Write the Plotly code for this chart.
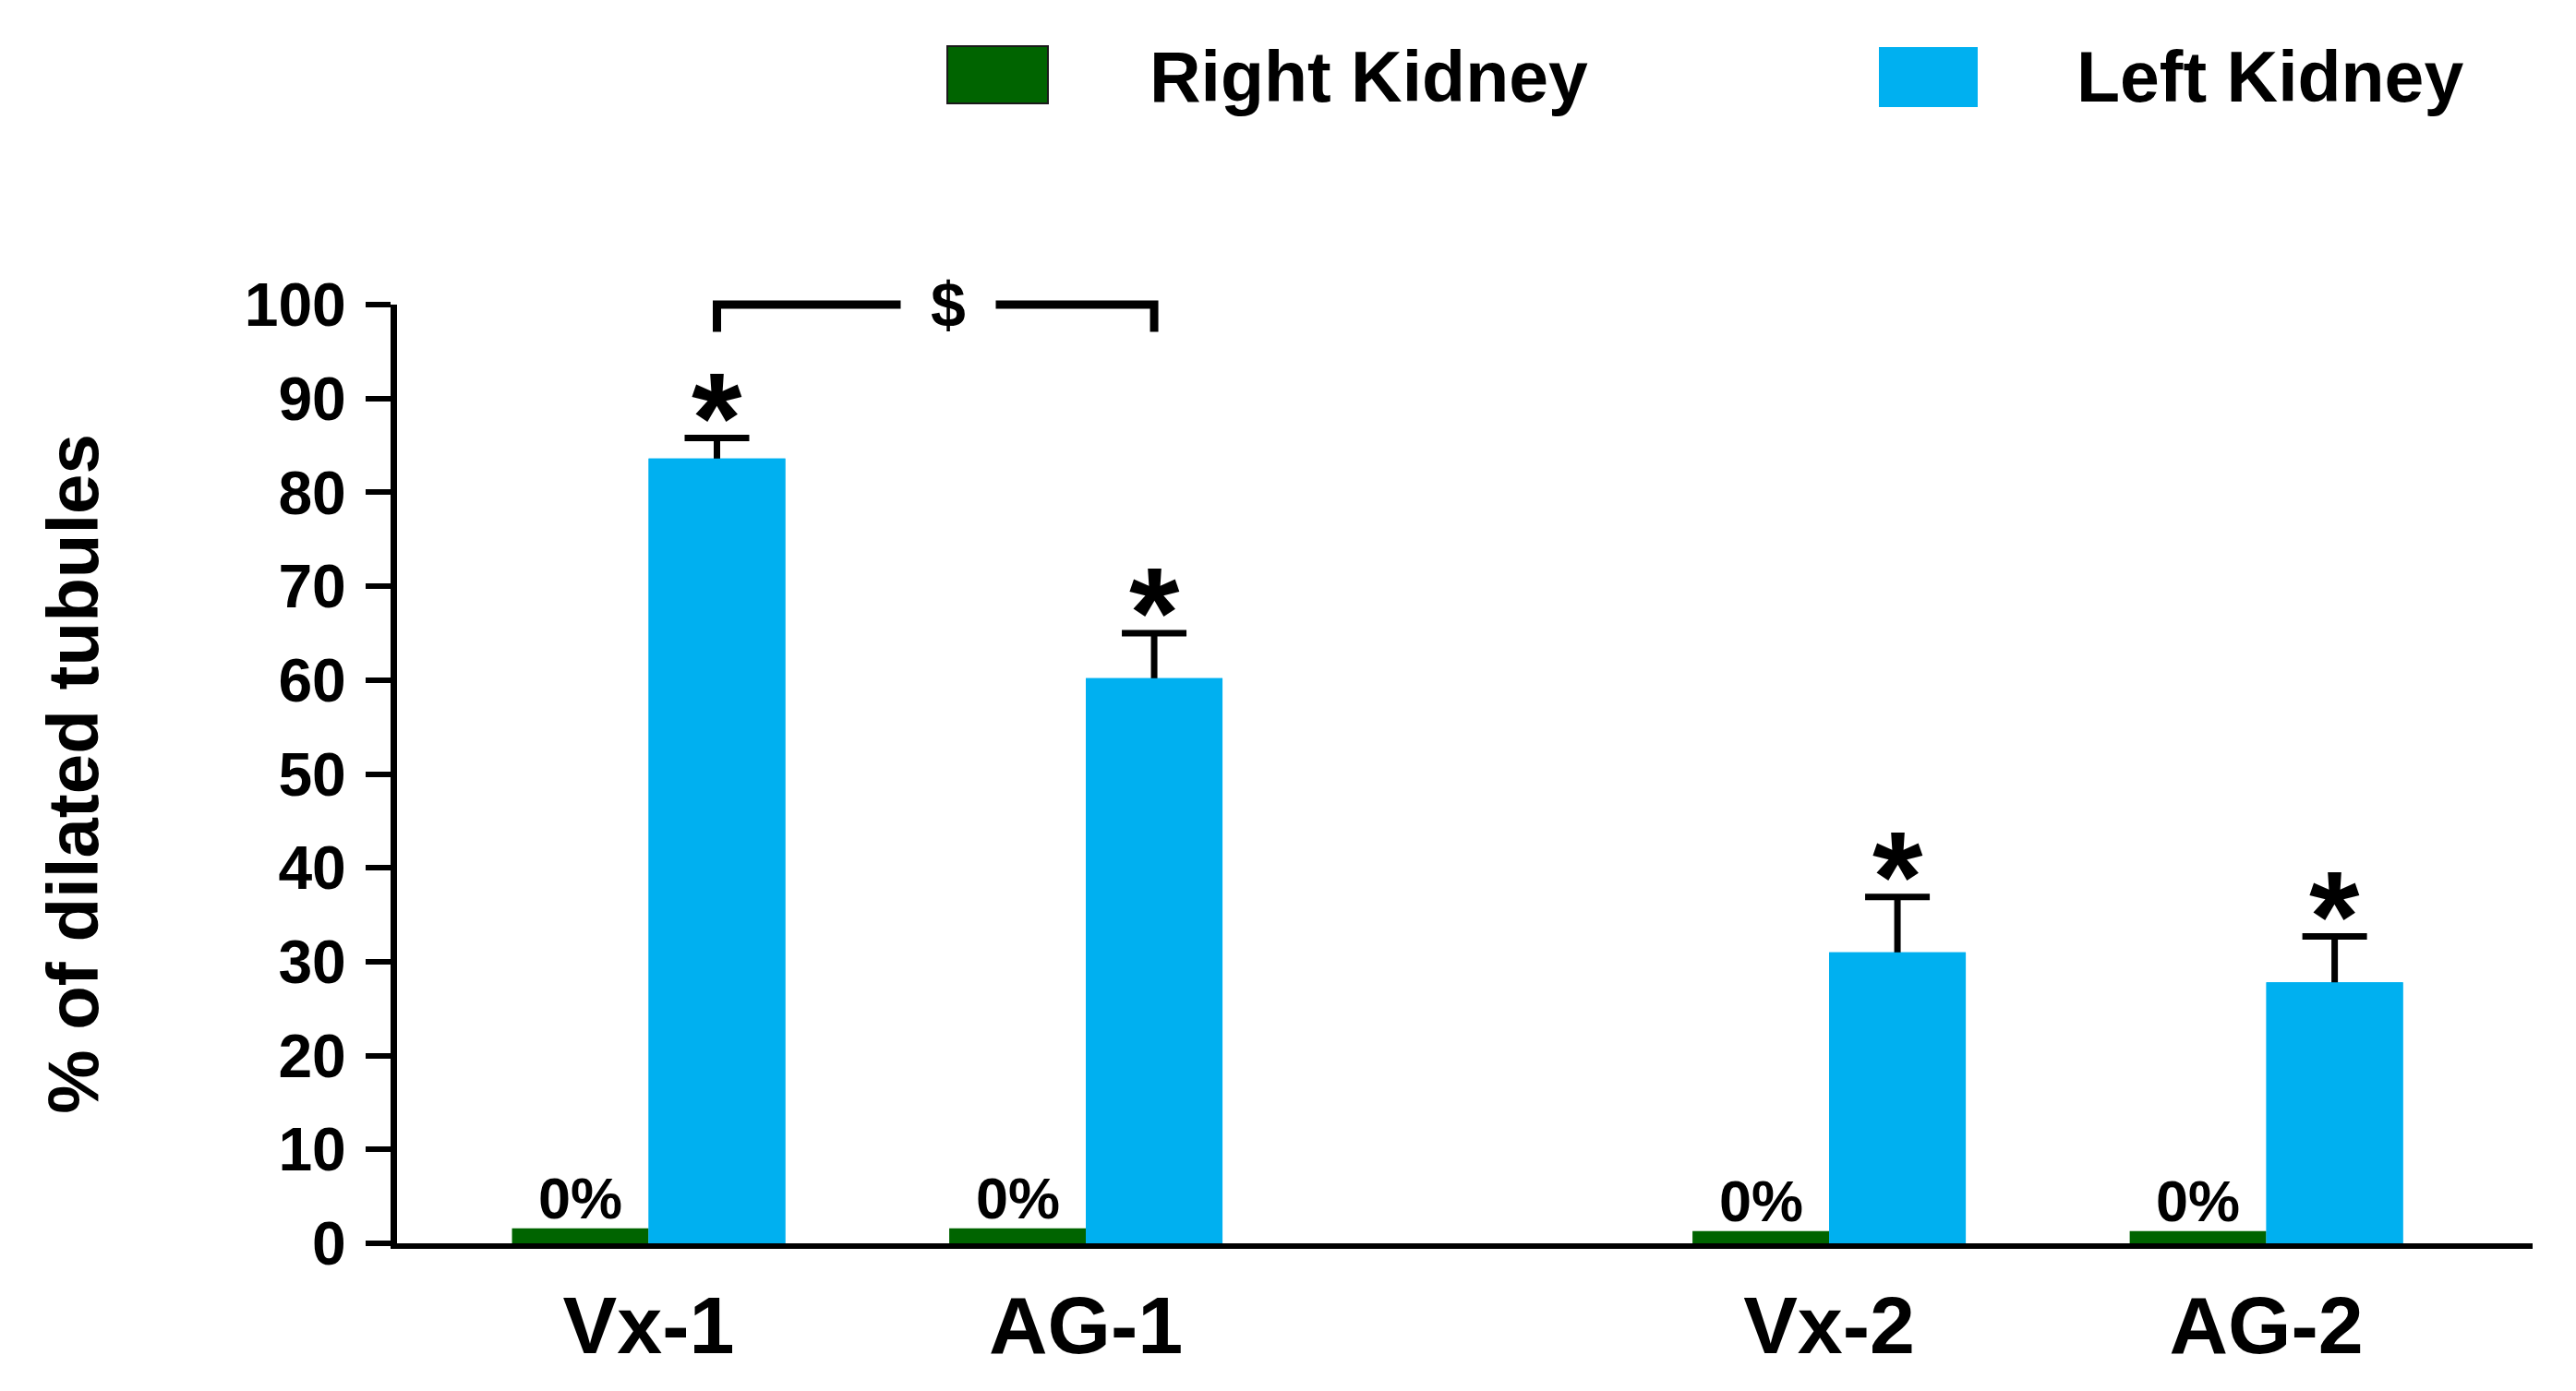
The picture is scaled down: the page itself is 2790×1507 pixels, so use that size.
import plotly.graph_objects as go

# ---- data ----
categories = ["Vx-1", "AG-1", "Vx-2", "AG-2"]
series_names = ["Right Kidney", "Left Kidney"]
right_kidney = [1.6, 1.6, 1.3, 1.3]          # drawn as thin stubs, labelled 0%
right_labels = ["0%", "0%", "0%", "0%"]
left_kidney = [83.6, 60.2, 31.0, 27.8]
left_err = [2.2, 4.8, 5.9, 4.9]
left_marks = ["*", "*", "*", "*"]
bracket_pair = ["Vx-1", "AG-1"]
bracket_level = 100
bracket_tail = 97.1
bracket_text = "$"
y_ticks = [0, 10, 20, 30, 40, 50, 60, 70, 80, 90, 100]
y_title = "% of dilated tubules"

# ---- layout constants ----
GROUP_POS = [0, 1, 2.7, 3.7]      # horizontal placement of the groups (wider gap between the two pairs)
BAR_W = 0.3125
COL_R = "#006400"
COL_L = "#00B0F0"
FONT = "Liberation Sans, Arial, sans-serif"
OFF = 8                            # page body margin
W, H = 2790 - 2 * OFF, 1507 - 2 * OFF
ML, MT = 430 - OFF, 330 - OFF
MR = W - (2743 - OFF)
MB = H - (1347 - OFF)
X_RANGE = [-0.5755, 4.309]
Y_RANGE = [0, 100]

pos_of = dict(zip(categories, GROUP_POS))

fig = go.Figure()
fig.add_trace(go.Bar(
    x=GROUP_POS, y=right_kidney, name=series_names[0],
    width=BAR_W, offset=-BAR_W,
    marker=dict(color=COL_R, line=dict(width=0)),
))
# left kidney with error bars ...
fig.add_trace(go.Bar(
    x=GROUP_POS, y=left_kidney, name=series_names[1],
    width=BAR_W, offset=0,
    marker=dict(color=COL_L, line=dict(width=0)),
    error_y=dict(type="data", array=left_err, symmetric=True,
                 color="black", thickness=7, width=35),
))
# ... and the same bars again on top, hiding the lower half of each error bar
fig.add_trace(go.Bar(
    x=GROUP_POS, y=left_kidney, name=series_names[1], showlegend=False,
    width=BAR_W, offset=0,
    marker=dict(color=COL_L, line=dict(width=0)),
))

annotations = []
# "0%" labels over the right-kidney stubs
for p, v, t in zip(GROUP_POS, right_kidney, right_labels):
    annotations.append(dict(x=p - BAR_W / 2, y=v, xref="x", yref="y", text="<b>" + t + "</b>",
                            showarrow=False, yanchor="bottom", xanchor="center", yshift=-4,
                            font=dict(family=FONT, size=63, color="black")))
# asterisks above error bars
for p, v, e, t in zip(GROUP_POS, left_kidney, left_err, left_marks):
    annotations.append(dict(x=p + BAR_W / 2, y=v + e, xref="x", yref="y", text="<b>" + t + "</b>",
                            showarrow=False, yanchor="middle", xanchor="center", yshift=22,
                            font=dict(family=FONT, size=140, color="black")))

# significance bracket between Vx-1 and AG-1 left-kidney bars
xa = pos_of[bracket_pair[0]] + BAR_W / 2
xb = pos_of[bracket_pair[1]] + BAR_W / 2
yl = (bracket_level - Y_RANGE[0]) / (Y_RANGE[1] - Y_RANGE[0])
yt = (bracket_tail - Y_RANGE[0]) / (Y_RANGE[1] - Y_RANGE[0])
shapes = [dict(type="path", xref="x", yref="paper",
               path=f"M {xa},{yt} L {xa},{yl} L {xb},{yl} L {xb},{yt}",
               line=dict(color="black", width=9))]
annotations.append(dict(x=(xa + xb) / 2 + 0.03, y=yl, xref="x", yref="paper", text="<b>" + bracket_text + "</b>",
                        showarrow=False, yanchor="middle", xanchor="center", width=100,
                        bgcolor="white", font=dict(family=FONT, size=68, color="black")))

# custom legend (large swatches as in the reference)
pw, ph = W - ML - MR, H - MT - MB
def px_x(v):
    return (v - OFF - ML) / pw
def px_y(v):
    return (H - MB - (v - OFF)) / ph
legend_items = [
    (series_names[0], COL_R, 1026, 1135, 50, 112, 1243, "#1a1a1a"),
    (series_names[1], COL_L, 2036, 2141, 52, 115, 2247, COL_L),
]
for name, col, x0, x1, y0, y1, tx, lc in legend_items:
    shapes.append(dict(type="rect", xref="paper", yref="paper",
                       x0=px_x(x0), x1=px_x(x1), y0=px_y(y1), y1=px_y(y0),
                       fillcolor=col, line=dict(color=lc, width=2)))
    annotations.append(dict(x=px_x(tx), y=px_y(83), xref="paper", yref="paper",
                            text="<b>" + name + "</b>", showarrow=False,
                            xanchor="left", yanchor="middle",
                            font=dict(family=FONT, size=77, color="black")))

fig.update_layout(
    width=W, height=H,
    margin=dict(l=ML, r=MR, t=MT, b=MB, autoexpand=False),
    paper_bgcolor="white", plot_bgcolor="white",
    barmode="overlay",
    showlegend=False,
    font=dict(family=FONT, color="black"),
    shapes=shapes, annotations=annotations,
    xaxis=dict(range=X_RANGE, tickmode="array", tickvals=GROUP_POS, ticktext=categories,
               showline=True, linecolor="black", linewidth=5.5, ticks="",
               showgrid=False, zeroline=False, ticklabelstandoff=8,
               tickfont=dict(family=FONT, size=88, color="black", weight="bold")),
    yaxis=dict(range=Y_RANGE, tickmode="array", tickvals=y_ticks,
               showline=True, linecolor="black", linewidth=7,
               ticks="outside", ticklen=27, tickwidth=6, tickcolor="black",
               showgrid=False, zeroline=False, ticklabelstandoff=8,
               tickfont=dict(family=FONT, size=66, color="black", weight="bold"),
               title=dict(text=y_title, standoff=135,
                          font=dict(family=FONT, size=78, color="black", weight="bold"))),
)

fig.write_html("out.html")
